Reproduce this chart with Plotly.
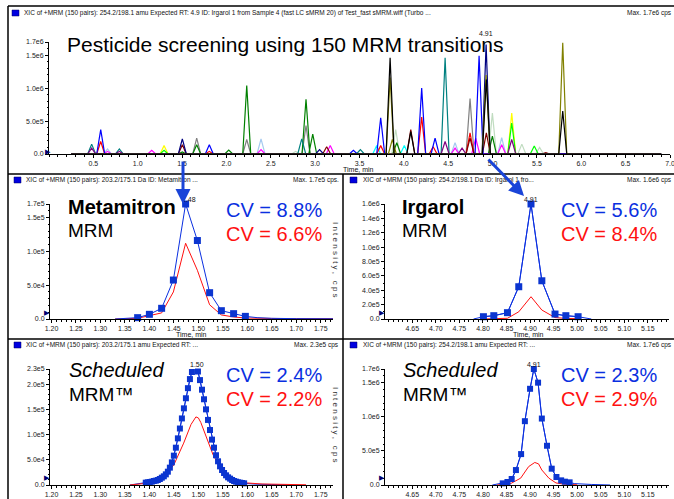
import plotly.graph_objects as go

W, H = 674, 499
FONT = "Liberation Sans, Arial, sans-serif"

def fx(px):
    return px / W

def fy(py):
    return 1 - py / H

# ---------------- DATA ----------------
# Top chromatogram: peaks per colour (apex time in min, apex intensity in cps)
top_peaks = {
    "#C0DCC0": [(2.78, 4e4), (3.908, 3.7e5), (4.998, 6.2e5), (5.33, 1.5e5), (5.53, 1.0e5)],
    "#A6CAF0": [(0.66, 7.6e4), (2.39, 2.3e5), (4.577, 1.7e5), (5.103, 2.5e5)],
    "#FFFF00": [(1.297, 1.27e5), (5.216, 6.2e5)],
    "#00FF00": [(1.297, 5.6e4), (5.216, 4.7e5), (5.47, 1.2e5)],
    "#00FFFF": [(3.694, 1.27e5), (4.005, 1.27e5)],
    "#FF00FF": [(0.66, 4e4), (1.158, 5.6e4), (2.39, 6.6e4), (3.17, 1.3e5), (4.577, 9e4), (4.81, 2.4e5), (5.103, 1.4e5)],
    "#808080": [(1.665, 2.4e5), (2.229, 2.2e5), (2.897, 4.3e5), (4.746, 8.4e5)],
    "#008000": [(1.503, 3e4), (1.665, 1.4e5), (2.026, 6e4), (2.229, 1.04e6), (2.897, 8.3e5), (2.973, 3.0e5), (3.92, 1.7e5), (4.998, 2.7e5)],
    "#008080": [(0.481, 1.5e5), (0.793, 7.6e4), (2.849, 2.3e5), (3.51, 6.6e4), (4.465, 1.46e6)],
    "#800080": [(0.481, 9e4), (0.793, 4e4), (4.465, 1.9e5), (4.656, 9e4), (5.216, 2.2e5)],
    "#FF0000": [(0.583, 1.9e5), (1.807, 4e4), (3.739, 1.27e5), (4.201, 5.6e5), (4.33, 1.1e5), (4.746, 3.2e5)],
    "#800000": [(1.503, 1.4e5), (3.13, 1.1e5), (4.078, 3.7e5), (4.746, 2.4e5), (4.93, 3.2e5), (5.6, 2e4)],
    "#0000FF": [(0.583, 3.7e5), (1.807, 1.4e5), (3.431, 5.6e4), (3.739, 5.5e5), (4.201, 1.0e6), (4.352, 2.4e5), (4.848, 1.49e6)],
    "#000080": [(1.503, 2.3e5), (3.05, 6.6e4), (4.927, 1.66e6)],
    "#808000": [(3.845, 1.16e6), (3.87, 2.2e5), (4.927, 1.2e6), (5.791, 1.69e6)],
    "#000000": [(3.845, 1.46e6), (4.078, 3.4e5), (4.93, 1.13e6), (5.791, 6.5e5)],
}

# Metamitron, MRM
meta_mrm_t = [1.33, 1.35, 1.376, 1.400, 1.425, 1.449, 1.474, 1.498, 1.523, 1.547, 1.572, 1.596, 1.62, 1.65, 1.70, 1.778]
meta_mrm_blue = [0, 800, 2.0e3, 6.9e3, 1.58e4, 5.76e4, 1.70e5, 1.16e5, 3.89e4, 1.23e4, 7.9e3, 3.9e3, 2.0e3, 1.0e3, 500, 300]
meta_mrm_marker = [False, False, True, True, True, True, True, True, True, True, True, True, False, False, False, False]
meta_mrm_red = [0, 500, 1.0e3, 5.0e3, 9.0e3, 4.0e4, 1.12e5, 7.2e4, 2.1e4, 6.0e3, 3.0e3, 1.5e3, 1.0e3, 800, 600, 500]

# Irgarol, MRM
irg_mrm_t = [4.801, 4.823, 4.852, 4.876, 4.902, 4.925, 4.953, 4.976, 5.002]
irg_mrm_blue = [3.2e4, 4.6e4, 8.8e4, 4.49e5, 1.60e6, 5.32e5, 6.9e4, 4.6e4, 3.2e4]
irg_mrm_red = [0, 5e3, 1.0e4, 1.0e5, 3.1e5, 1.25e5, 2.0e4, 8e3, 4e3]

# Metamitron, Scheduled MRM
meta_s_t = [1.3926, 1.3967, 1.4008, 1.4049, 1.4090, 1.4131, 1.4172, 1.4213, 1.4254, 1.4295,
            1.4336, 1.4377, 1.4418, 1.4459, 1.4500, 1.4541, 1.4582, 1.4623, 1.4664, 1.4705,
            1.4746, 1.4787, 1.4828, 1.4869, 1.4910, 1.4951, 1.4992, 1.5033, 1.5074, 1.5115,
            1.5156, 1.5197, 1.5238, 1.5279, 1.5320, 1.5361, 1.5402, 1.5443, 1.5484, 1.5525,
            1.5566, 1.5607, 1.5648, 1.5689, 1.5730, 1.5771, 1.5812, 1.5853, 1.5894, 1.5935]
meta_s_blue = [4.6e3, 5.3e3, 6.0e3, 6.6e3, 7.9e3, 8.6e3, 9.9e3, 1.19e4, 1.45e4, 1.72e4,
               2.11e4, 2.64e4, 3.44e4, 4.49e4, 5.82e4, 7.40e4, 9.25e4, 1.12e5, 1.32e5, 1.52e5,
               1.72e5, 1.92e5, 2.10e5, 2.24e5, 2.31e5, 2.31e5, 2.25e5, 2.08e5, 1.89e5, 1.70e5,
               1.50e5, 1.29e5, 1.09e5, 9.0e4, 7.4e4, 5.9e4, 4.7e4, 3.7e4, 2.97e4, 2.38e4,
               1.92e4, 1.52e4, 1.26e4, 9.9e3, 7.9e3, 6.6e3, 5.3e3, 4.6e3, 4.0e3, 3.3e3]
meta_s_tail_t = [1.36, 1.38, 1.62, 1.65, 1.68]
meta_s_tail_blue = [0, 2.5e3, 1.5e3, 1.0e3, 0]
meta_s_red_t = [1.36, 1.40, 1.43, 1.45, 1.47, 1.485, 1.495, 1.50, 1.505, 1.515, 1.53, 1.545, 1.56, 1.575, 1.60, 1.63, 1.68, 1.72]
meta_s_red = [0, 4.0e3, 1.6e4, 4.0e4, 8.3e4, 1.20e5, 1.35e5, 1.33e5, 1.24e5, 9.8e4, 6.0e4, 3.3e4, 1.7e4, 9.0e3, 4.0e3, 2.0e3, 1.0e3, 500]

# Irgarol, Scheduled MRM
irg_s_t = [4.842, 4.852, 4.861, 4.870, 4.881, 4.889, 4.900, 4.908, 4.917, 4.925, 4.936, 4.946, 4.956, 4.966, 4.974, 4.984]
irg_s_blue = [2.4e4, 4.4e4, 8.8e4, 2.19e5, 4.53e5, 9.35e5, 1.41e6, 1.70e6, 1.50e6, 9.74e5, 5.75e5, 2.39e5, 1.17e5, 6.8e4, 4.9e4, 3.9e4]
irg_s_tail_t = [4.82, 4.995, 5.03, 5.07]
irg_s_tail_blue = [0, 2.0e4, 8.0e3, 0]
irg_s_red_t = [4.83, 4.86, 4.88, 4.897, 4.91, 4.918, 4.925, 4.94, 4.955, 4.975, 5.0]
irg_s_red = [0, 2.5e4, 1.0e5, 2.7e5, 3.3e5, 3.1e5, 2.2e5, 1.0e5, 3.0e4, 1.0e4, 3.0e3]

# Axis ticks
top_xticks = [0.5, 1.0, 1.5, 2.0, 2.5, 3.0, 3.5, 4.0, 4.5, 5.0, 5.5, 6.0, 6.5, 7.0]
top_yticks = [0, 5e5, 1e6, 1.5e6, 1.7e6]
top_ylabels = ["0.0", "5.0e5", "1.0e6", "1.5e6", "1.7e6"]
meta_xticks = [1.20, 1.25, 1.30, 1.35, 1.40, 1.45, 1.50, 1.55, 1.60, 1.65, 1.70, 1.75]
irg_xticks = [4.65, 4.70, 4.75, 4.80, 4.85, 4.90, 4.95, 5.00, 5.05, 5.10, 5.15]
meta_mrm_yticks = [0, 5e4, 1e5, 1.5e5, 1.7e5]
meta_mrm_ylabels = ["0.0", "5.0e4", "1.0e5", "1.5e5", "1.7e5"]
irg_mrm_yticks = [0, 2e5, 4e5, 6e5, 8e5, 1e6, 1.2e6, 1.4e6, 1.6e6]
irg_mrm_ylabels = ["0.0", "2.0e5", "4.0e5", "6.0e5", "8.0e5", "1.0e6", "1.2e6", "1.4e6", "1.6e6"]
meta_s_yticks = [0, 5e4, 1e5, 1.5e5, 2e5, 2.3e5]
meta_s_ylabels = ["0.0", "5.0e4", "1.0e5", "1.5e5", "2.0e5", "2.3e5"]
irg_s_yticks = [0, 5e5, 1e6, 1.5e6, 1.7e6]
irg_s_ylabels = ["0.0", "5.0e5", "1.0e6", "1.5e6", "1.7e6"]

BLUE = "#0A2FE0"
RED = "#FF1010"
MARK = "#0B35D0"

fig = go.Figure()

# ---------- top chromatogram ----------
HW = 0.045
for col, peaks in top_peaks.items():
    xs, ys = [0.25], [0]
    for t, h in sorted(peaks):
        xs += [t - HW, t, t + HW]
        ys += [0, h, 0]
    xs.append(6.9)
    ys.append(0)
    fig.add_trace(go.Scatter(x=xs, y=ys, mode="lines", line=dict(color=col, width=1.2),
                             xaxis="x", yaxis="y", showlegend=False, hoverinfo="skip"))

def add_panel(xa, ya, t_blue, blue, t_red, red, msize, marker_mask=None, tail=None):
    if tail is not None:
        tt, tb = tail
        pts = sorted(list(zip(tt, tb)) + list(zip(t_blue, blue)))
        fig.add_trace(go.Scatter(x=[p[0] for p in pts], y=[p[1] for p in pts], mode="lines",
                                 line=dict(color=BLUE, width=1), xaxis=xa, yaxis=ya,
                                 showlegend=False, hoverinfo="skip"))
    fig.add_trace(go.Scatter(x=t_red, y=red, mode="lines", line=dict(color=RED, width=1),
                             xaxis=xa, yaxis=ya, showlegend=False, hoverinfo="skip"))
    fig.add_trace(go.Scatter(x=t_blue, y=blue, mode="lines", line=dict(color=BLUE, width=1),
                             xaxis=xa, yaxis=ya, showlegend=False, hoverinfo="skip"))
    if marker_mask is None:
        mx, my = t_blue, blue
    else:
        mx = [t for t, m in zip(t_blue, marker_mask) if m]
        my = [v for v, m in zip(blue, marker_mask) if m]
    fig.add_trace(go.Scatter(x=mx, y=my, mode="markers",
                             marker=dict(symbol="square", size=msize, color=MARK),
                             xaxis=xa, yaxis=ya, showlegend=False, hoverinfo="skip",
                             cliponaxis=False))

add_panel("x2", "y2", meta_mrm_t, meta_mrm_blue, meta_mrm_t, meta_mrm_red, 7, meta_mrm_marker)
add_panel("x3", "y3", irg_mrm_t, irg_mrm_blue, irg_mrm_t, irg_mrm_red, 7,
          tail=([4.78, 5.03], [0, 0]))
add_panel("x4", "y4", meta_s_t, meta_s_blue, meta_s_red_t, meta_s_red, 6,
          tail=(meta_s_tail_t, meta_s_tail_blue))
add_panel("x5", "y5", irg_s_t, irg_s_blue, irg_s_red_t, irg_s_red, 6,
          tail=(irg_s_tail_t, irg_s_tail_blue))

# ---------- axes ----------
def xax(px0, px1, rng, ticks, dminor, fmt):
    return dict(domain=[fx(px0), fx(px1)], range=rng, tickmode="array",
                tickvals=ticks, ticktext=[fmt.format(v) for v in ticks], automargin=False,
                ticklabeloverflow="allow",
                showline=True, linecolor="black", linewidth=1, ticks="outside", ticklen=3,
                tickcolor="black", tickfont=dict(size=7, family=FONT, color="#222"),
                showgrid=False, zeroline=False,
                minor=dict(tickmode="linear", tick0=0, dtick=dminor, ticks="outside",
                           ticklen=2, tickcolor="black"))

def yax(py0, py1, rng, ticks, labels, dminor):
    return dict(domain=[fy(py0), fy(py1)], range=rng, tickmode="array", tickvals=ticks,
                ticktext=labels, showline=True, linecolor="black", linewidth=1,
                automargin=False, ticklabeloverflow="allow",
                ticks="outside", ticklen=3, tickcolor="black",
                tickfont=dict(size=7, family=FONT, color="#222"), showgrid=False,
                zeroline=False,
                minor=dict(tickmode="linear", tick0=0, dtick=dminor, ticks="outside",
                           ticklen=1.5, tickcolor="black"))

lay = {}
lay["xaxis"] = xax(49, 670, [0, 7.0], top_xticks, 0.1, "{:.1f}")
lay["yaxis"] = yax(154, 42, [0, 1.7e6], top_yticks, top_ylabels, 1e5)
lay["xaxis2"] = xax(50, 333, [1.197, 1.775], meta_xticks, 0.01, "{:.2f}")
lay["yaxis2"] = yax(319, 204, [0, 1.7e5], meta_mrm_yticks, meta_mrm_ylabels, 1e4)
lay["xaxis3"] = xax(385, 669, [4.592, 5.195], irg_xticks, 0.01, "{:.2f}")
lay["yaxis3"] = yax(319, 204, [0, 1.6e6], irg_mrm_yticks, irg_mrm_ylabels, 1e5)
lay["xaxis4"] = xax(50, 333, [1.197, 1.775], meta_xticks, 0.01, "{:.2f}")
lay["yaxis4"] = yax(485, 369, [0, 2.3e5], meta_s_yticks, meta_s_ylabels, 1e4)
lay["xaxis5"] = xax(385, 669, [4.592, 5.195], irg_xticks, 0.01, "{:.2f}")
lay["yaxis5"] = yax(485, 369, [0, 1.7e6], irg_s_yticks, irg_s_ylabels, 1e5)
for s in ["", "2", "3", "4", "5"]:
    lay["xaxis" + s]["anchor"] = "y" + s
    lay["yaxis" + s]["anchor"] = "x" + s

fig.update_layout(width=W, height=H, margin=dict(l=0, r=0, t=0, b=0, autoexpand=False),
                  paper_bgcolor="white", plot_bgcolor="white", showlegend=False, **lay)

# ---------- frame lines ----------
shapes = []
def hline(py, x0, x1, w=1.5):
    shapes.append(dict(type="line", xref="paper", yref="paper", x0=fx(x0), x1=fx(x1),
                       y0=fy(py), y1=fy(py), line=dict(color="black", width=w)))
def vline(px, y0, y1, w=1.5):
    shapes.append(dict(type="line", xref="paper", yref="paper", x0=fx(px), x1=fx(px),
                       y0=fy(y0), y1=fy(y1), line=dict(color="black", width=w)))
hline(6, 8, 674)
hline(174, 8, 674)
hline(339, 8, 674)
vline(8, 6, 499)
vline(343, 174, 499)
# header squares
for (sx, sy) in [(12, 13), (14, 180), (350, 180), (14, 345), (350, 345)]:
    shapes.append(dict(type="rect", xref="paper", yref="paper", x0=fx(sx), x1=fx(sx + 7),
                       y0=fy(sy - 3), y1=fy(sy + 3), fillcolor="#0000E0",
                       line=dict(color="#000060", width=0.5)))
fig.update_layout(shapes=shapes)

# ---------- texts ----------
ann = []
def txt(px, py, s, size=7, color="#111", xanchor="left", bold=False, italic=False, angle=0):
    if bold:
        s = "<b>" + s + "</b>"
    if italic:
        s = "<i>" + s + "</i>"
    ann.append(dict(xref="paper", yref="paper", x=fx(px), y=fy(py), text=s, showarrow=False,
                    xanchor=xanchor, yanchor="middle", textangle=angle,
                    font=dict(size=size, color=color, family=FONT)))

txt(22, 13, "XIC of +MRM (150 pairs): 254.2/198.1 amu Expected RT: 4.9 ID: Irgarol 1 from Sample 4 (fast LC sMRM 20) of Test_fast sMRM.wiff (Turbo ...", size=6.5)
txt(674, 13, "Max. 1.7e6 cps", size=6.5, xanchor="right")
txt(24, 180, "XIC of +MRM (150 pairs): 203.2/175.1 Da ID: Metamitron ...", size=6.5)
txt(341, 180, "Max. 1.7e5 cps.", size=6.5, xanchor="right")
txt(361, 180, "XIC of +MRM (150 pairs): 254.2/198.1 Da ID: Irgarol 1 fro...", size=6.5)
txt(674, 180, "Max. 1.6e6 cps", size=6.5, xanchor="right")
txt(24, 345, "XIC of +MRM (150 pairs): 203.2/175.1 amu Expected RT: ...", size=6.5)
txt(341, 345, "Max. 2.3e5 cps", size=6.5, xanchor="right")
txt(361, 345, "XIC of +MRM (150 pairs): 254.2/198.1 amu Expected RT: ...", size=6.5)
txt(674, 345, "Max. 1.7e6 cps", size=6.5, xanchor="right")

txt(65, 45, "Pesticide screening using 150 MRM transitions", size=21, color="black")
txt(486, 34, "4.91", size=7, xanchor="center")
txt(358, 169, "Time, min", size=7, xanchor="center")
txt(191, 334, "Time, min", size=7, xanchor="center")
txt(528, 334, "Time, min", size=7, xanchor="center")
txt(191, 502, "Time, min", size=7, xanchor="center")
txt(528, 502, "Time, min", size=7, xanchor="center")

txt(66, 207, "Metamitron", size=20, color="black", bold=True)
txt(66, 230, "MRM", size=19, color="black")
txt(224, 210, "CV = 8.8%", size=20, color=BLUE)
txt(224, 234, "CV = 6.6%", size=20, color=RED)
txt(189, 199, "1.48", size=7, xanchor="center")

txt(400, 207, "Irgarol", size=20, color="black", bold=True)
txt(400, 230, "MRM", size=19, color="black")
txt(559, 210, "CV = 5.6%", size=20, color=BLUE)
txt(559, 234, "CV = 8.4%", size=20, color=RED)
txt(531, 199, "4.91", size=7, xanchor="center")

txt(67, 370, "Scheduled", size=20, color="black", italic=True)
txt(67, 394, "MRM™", size=19, color="black")
txt(224, 375, "CV = 2.4%", size=20, color=BLUE)
txt(224, 399, "CV = 2.2%", size=20, color=RED)
txt(197, 364, "1.50", size=7, xanchor="center")

txt(401, 370, "Scheduled", size=20, color="black", italic=True)
txt(401, 394, "MRM™", size=19, color="black")
txt(559, 375, "CV = 2.3%", size=20, color=BLUE)
txt(559, 399, "CV = 2.9%", size=20, color=RED)
txt(534, 364, "4.91", size=7, xanchor="center")

sp = "I n t e n s i t y ,   c p s"
txt(336, 260, sp, size=8, color="#333", xanchor="center", angle=90)
txt(336, 425, sp, size=8, color="#333", xanchor="center", angle=90)

# arrows
ann.append(dict(xref="paper", yref="paper", x=fx(183), y=fy(204), ax=0, ay=-44,
                showarrow=True, arrowhead=2, arrowsize=1, arrowwidth=3, arrowcolor="#1A44D8", text=""))
ann.append(dict(xref="paper", yref="paper", x=fx(524), y=fy(196), ax=-37, ay=-38,
                showarrow=True, arrowhead=2, arrowsize=1, arrowwidth=3, arrowcolor="#1A44D8", text=""))

# small baseline pointer triangles
for (px, py) in [(48, 152), (47, 313), (382, 313), (47, 478), (382, 478)]:
    ann.append(dict(xref="paper", yref="paper", x=fx(px), y=fy(py), text="▶", showarrow=False,
                    xanchor="center", yanchor="middle", font=dict(size=7, color="#000070", family="DejaVu Sans")))

fig.update_layout(annotations=ann)
fig.write_html("out.html", config={"displayModeBar": False},
               post_script="document.body.style.margin='0px';document.body.style.overflow='hidden';")
